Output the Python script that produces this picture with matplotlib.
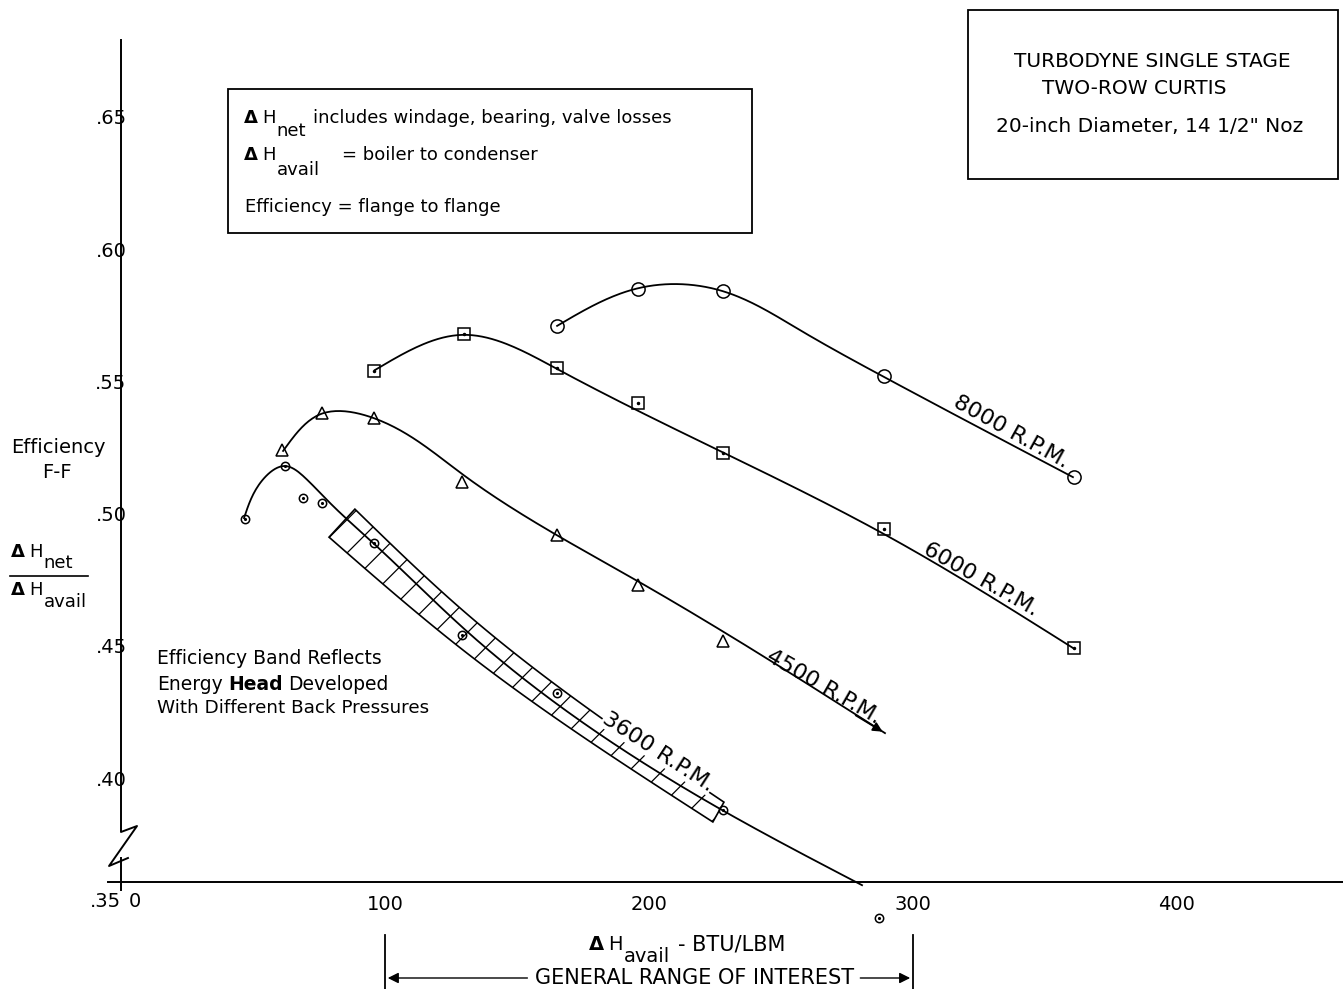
import numpy as np
import matplotlib
matplotlib.use("Agg")
import matplotlib.pyplot as plt
from matplotlib.patches import Polygon, Rectangle
from matplotlib import transforms

plt.rcParams['font.family'] = ['DejaVu Sans']
plt.rcParams['hatch.linewidth'] = 0.9

# ---------------- data ----------------
x_ticks = [100, 200, 300, 400]
x_ticklabels = ['100', '200', '300', '400']
y_ticks = [0.40, 0.45, 0.50, 0.55, 0.60, 0.65]
y_ticklabels = ['.40', '.45', '.50', '.55', '.60', '.65']

# measured points
rpm8000_x = [165, 196, 228, 289, 361]
rpm8000_y = [0.571, 0.585, 0.584, 0.552, 0.514]
rpm6000_x = [96, 130, 165, 196, 228, 289, 361]
rpm6000_y = [0.554, 0.568, 0.555, 0.542, 0.523, 0.494, 0.449]
rpm4500_x = [61, 76, 96, 129, 165, 196, 228]
rpm4500_y = [0.524, 0.538, 0.536, 0.512, 0.492, 0.473, 0.452]
rpm3600_x = [47, 62, 69, 76, 96, 129, 165, 228, 287]
rpm3600_y = [0.498, 0.518, 0.506, 0.504, 0.489, 0.454, 0.432, 0.388, 0.347]

# hand-faired curves (knots)
curve8000_x = [165.2, 196.2, 227.7, 257.2, 289.0, 360.6]
curve8000_y = [0.5710, 0.5853, 0.5842, 0.5694, 0.5517, 0.5138]
curve6000_x = [96.2, 129.5, 165.2, 227.7, 288.6, 360.6]
curve6000_y = [0.5543, 0.5676, 0.5547, 0.5233, 0.4925, 0.4492]
curve4500_x = [61.4, 75.8, 95.5, 129.2, 196.2, 289.4]
curve4500_y = [0.5237, 0.5377, 0.5362, 0.5150, 0.4742, 0.4170]
curve3600_x = [46.6, 53.6, 62.1, 70.1, 79.2, 95.5, 128.8, 227.7, 280.7]
curve3600_y = [0.4983, 0.5127, 0.5180, 0.5132, 0.5040, 0.4889, 0.4575, 0.3879, 0.3595]

# efficiency band edges
band_upper_x = [88.6, 128.8, 228.4]
band_upper_y = [0.5017, 0.4640, 0.3909]
band_lower_x = [78.8, 128.8, 224.2]
band_lower_y = [0.4911, 0.4490, 0.3834]

range_of_interest = [100, 300]

# ---------------- figure ----------------
W, H = 1343, 989
fig = plt.figure(figsize=(W / 100, H / 100), dpi=100)
fig.patch.set_facecolor('white')
ax = fig.add_axes([121 / W, (H - 882) / H, (W - 121) / W, (882 - 40) / H])
XMAX = 462.9
YMIN, YMAX = 0.3607, 0.6791
ax.set_xlim(0, XMAX)
ax.set_ylim(YMIN, YMAX)
ax.set_facecolor('none')
for s in ax.spines.values():
    s.set_visible(False)

SX, SY = 2.64, 2644.0  # screen-isotropic scaling used only for smooth drawing


def _ncs(t, y, tt):
    n = len(t)
    h = np.diff(t)
    A = np.zeros((n, n))
    r = np.zeros(n)
    A[0, 0] = A[-1, -1] = 1.0
    for i in range(1, n - 1):
        A[i, i - 1] = h[i - 1]
        A[i, i] = 2 * (h[i - 1] + h[i])
        A[i, i + 1] = h[i]
        r[i] = 6 * ((y[i + 1] - y[i]) / h[i] - (y[i] - y[i - 1]) / h[i - 1])
    M = np.linalg.solve(A, r)
    idx = np.clip(np.searchsorted(t, tt) - 1, 0, n - 2)
    t0, t1 = t[idx], t[idx + 1]
    hh = t1 - t0
    a = (t1 - tt) / hh
    b = (tt - t0) / hh
    return a * y[idx] + b * y[idx + 1] + ((a ** 3 - a) * M[idx] + (b ** 3 - b) * M[idx + 1]) * hh ** 2 / 6


def smooth(xs, ys, n=300):
    px = np.asarray(xs, float) * SX
    py = np.asarray(ys, float) * SY
    d = np.hypot(np.diff(px), np.diff(py))
    t = np.concatenate([[0], np.cumsum(d)])
    tt = np.linspace(0, t[-1], n)
    return _ncs(t, px, tt) / SX, _ncs(t, py, tt) / SY


LW = 1.3
# band
ux, uy = smooth(band_upper_x, band_upper_y)
lx, ly = smooth(band_lower_x, band_lower_y)
poly = np.vstack([np.column_stack([ux, uy]), np.column_stack([lx, ly])[::-1]])
ax.add_patch(Polygon(poly, closed=True, fill=False, hatch='/', edgecolor='black', lw=1.2,
                     clip_on=False, zorder=2))

for cx, cy in [(curve8000_x, curve8000_y), (curve6000_x, curve6000_y),
               (curve4500_x, curve4500_y), (curve3600_x, curve3600_y)]:
    sx, sy = smooth(cx, cy)
    ax.plot(sx, sy, color='black', lw=LW, clip_on=False, zorder=3)

# arrow at end of 4500 curve
ax.annotate('', xy=(curve4500_x[-1], curve4500_y[-1]),
            xytext=(curve4500_x[-1] - 12, curve4500_y[-1] + 12 * 0.000605),
            arrowprops=dict(arrowstyle='-|>', color='black', lw=LW, mutation_scale=14))

mk = dict(linestyle='none', color='black', markerfacecolor='none', mew=1.1, clip_on=False, zorder=4)
ax.plot(rpm8000_x, rpm8000_y, marker='o', markersize=9.5, **mk)
ax.plot(rpm6000_x, rpm6000_y, marker='s', markersize=9, **mk)
ax.plot(rpm6000_x, rpm6000_y, marker='.', markersize=3, linestyle='none', color='black', zorder=5)
ax.plot(rpm4500_x, rpm4500_y, marker='^', markersize=8, **mk)
ax.plot(rpm3600_x, rpm3600_y, marker='o', markersize=6, **mk)
ax.plot(rpm3600_x, rpm3600_y, marker='.', markersize=2.5, linestyle='none', color='black',
        clip_on=False, zorder=5)

# curve labels (baseline sitting on the curve)
lab = dict(fontsize=16, ha='center', va='baseline', rotation_mode='anchor', zorder=6)
ax.text(336.0, 0.5290, '8000 R.P.M.', rotation=-29, **lab)
ax.text(324.6, 0.4730, '6000 R.P.M.', rotation=-29.5, **lab)
ax.text(265.2, 0.4326, '4500 R.P.M.', rotation=-30, **lab)
ax.text(202.3, 0.4080, '3600 R.P.M.', rotation=-33,
        bbox=dict(facecolor='white', edgecolor='none', pad=0.3), **lab)

# ticks
ax.set_xticks(x_ticks, x_ticklabels)
ax.set_yticks(y_ticks, y_ticklabels)
ax.tick_params(axis='both', length=0, labelsize=14)
ax.tick_params(axis='x', pad=9)
ax.tick_params(axis='y', pad=-4)
ax.text(0, YMIN, '0', transform=ax.transData + transforms.ScaledTranslation(14 / 100, -20 / 100, fig.dpi_scale_trans),
        ha='center', va='center', fontsize=14)
ax.text(0, YMIN, '.35', transform=ax.transData + transforms.ScaledTranslation(0 / 100, -20 / 100, fig.dpi_scale_trans),
        ha='right', va='center', fontsize=14)

# axes lines (broken y axis)
ta = ax.transAxes
ax.plot([-0.0106, 1.0], [0, 0], color='black', lw=1.4, transform=ta, clip_on=False)
ax.plot([0, 0, 0.0131, -0.0098, 0.0057], [1.0, 0.0594, 0.0665, 0.0190, 0.0285],
        color='black', lw=1.4, transform=ta, clip_on=False)
ax.plot([0, 0], [0.0285, -0.0095], color='black', lw=1.4, transform=ta, clip_on=False)

# ---------------- annotation text ----------------
renderer = fig.canvas.get_renderer()


def ftext(px, py, s, size=13, **kw):
    kw.setdefault('va', 'center')
    kw.setdefault('ha', 'left')
    return fig.text(px / W, 1 - py / H, s, fontsize=size, **kw)


def chain(px, py, parts, size=13):
    """parts: list of (text, dy, gap, kwargs) drawn left to right."""
    x = px
    for s, dy, gap, kw in parts:
        x += gap
        kw = dict(kw)
        sz = kw.pop('size', size)
        t = ftext(x, py + dy, s, size=sz, **kw)
        bb = t.get_window_extent(renderer)
        x = bb.x1
    return x


def dh(px, py, sub, dy=13, size=13, after='', gap_after=8, after_size=None):
    parts = [('Δ', 0, 0, dict(weight='bold')), ('H', 0, 4, {}), (sub, dy, 1, {})]
    if after:
        parts.append((after, 0, gap_after, dict(size=after_size or size)))
    return chain(px, py, parts, size=size)


# box 1
fig.add_artist(Rectangle((228 / W, 1 - 233 / H), (752 - 228) / W, (233 - 89) / H,
                         transform=fig.transFigure, fill=False, lw=1.3, color='black'))
dh(244, 118, 'net', dy=13, after='includes windage, bearing, valve losses', gap_after=7)
dh(244, 155, 'avail', dy=15, after='= boiler to condenser', gap_after=23)
ftext(245, 207, 'Efficiency = flange to flange')

# box 2
fig.add_artist(Rectangle((968 / W, 1 - 179 / H), (1338 - 968) / W, (179 - 10) / H,
                         transform=fig.transFigure, fill=False, lw=1.3, color='black'))
ftext(1152, 62, 'TURBODYNE SINGLE STAGE', ha='center', size=14.5)
ftext(1134, 89, 'TWO-ROW CURTIS', ha='center', size=14.5)
ftext(1150, 127, '20-inch Diameter, 14 1/2" Noz', ha='center', size=14.5)

# y-axis label
ftext(58, 448, 'Efficiency', ha='center', size=14)
ftext(57, 473, 'F-F', ha='center', size=14)
dh(11, 552, 'net', dy=11)
fig.add_artist(plt.Line2D([10 / W, 88 / W], [1 - 576 / H, 1 - 576 / H], color='black', lw=1.2))
dh(11, 590, 'avail', dy=12)

# band note
ftext(157, 658, 'Efficiency Band Reflects', size=13.5)
chain(157, 684, [('Energy', 0, 0, {}), ('Head', 0, 6, dict(weight='bold')), ('Developed', 0, 5, {})],
      size=13.5)
ftext(157, 708, 'With Different Back Pressures', size=13.2)

# x-axis label
dh(589, 944, 'avail', dy=13, size=14, after='- BTU/LBM', gap_after=8, after_size=15)
ftext(695, 978, 'GENERAL RANGE OF INTEREST', ha='center', size=15)

bt = transforms.blended_transform_factory(ax.transData, fig.transFigure)
for xv in range_of_interest:
    ax.plot([xv, xv], [1 - 935 / H, 0.0], color='black', lw=1.3, transform=bt, clip_on=False)
ax.annotate('', xy=(range_of_interest[0], 1 - 978 / H), xycoords=bt,
            xytext=(155, 1 - 978 / H), textcoords=bt,
            arrowprops=dict(arrowstyle='-|>', color='black', lw=1.0, mutation_scale=16))
ax.annotate('', xy=(range_of_interest[1], 1 - 978 / H), xycoords=bt,
            xytext=(279, 1 - 978 / H), textcoords=bt,
            arrowprops=dict(arrowstyle='-|>', color='black', lw=1.0, mutation_scale=16))

fig.savefig('out.png', dpi=100, facecolor='white')
